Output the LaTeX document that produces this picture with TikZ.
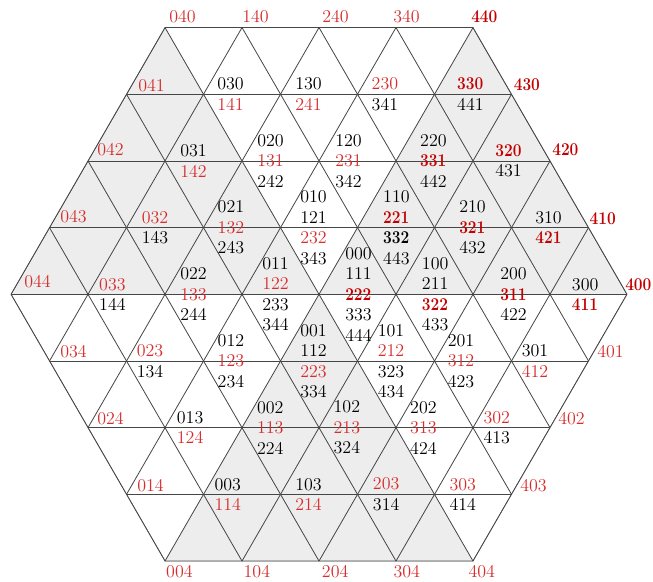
\documentclass[tikz,border=0pt]{standalone}
\usepackage{graphicx}
\usepackage{tikz}
\definecolor{LabRed}{RGB}{215,45,45}
\definecolor{LabDark}{RGB}{195,0,0}
\definecolor{TriGray}{RGB}{237,237,237}
\definecolor{GridGray}{RGB}{70,70,70}
\tikzset{
	trilines/.style={draw=GridGray,line width=0.6pt},
	grayzone/.style={fill=TriGray},
	lab/.style={anchor=west,inner sep=0pt,align=left,font=\fontsize{13.3pt}{15.15pt}\selectfont},
}
\newcommand{\lred}[1]{\textcolor{LabRed}{#1}}
\newcommand{\lbred}[1]{\textcolor{LabDark}{\scalebox{0.86}[1]{\bfseries #1}}}
\newcommand{\lbblk}[1]{\scalebox{0.86}[1]{\bfseries #1}}

\begin{document}
\begin{tikzpicture}
	\useasboundingbox (-8.286,-7.447) rectangle (8.675,7.644);
	\begin{scope}[x={(2cm,0cm)},y={(-1cm,1.7321cm)}]
		\coordinate (h040) at (0,4);
		\coordinate (h440) at (4,4);
		\coordinate (h400) at (4,0);
		\coordinate (h404) at (0,-4);
		\coordinate (h004) at (-4,-4);
		\coordinate (h044) at (-4,0);
		\coordinate (c000) at (0,0);
		\fill[grayzone] (h040)--(h044)--(c000)--cycle;
		\fill[grayzone] (h440)--(h400)--(c000)--cycle;
		\fill[grayzone] (c000)--(h004)--(h404)--cycle;
		\begin{scope}
			\clip (h040)--(h440)--(h400)--(h404)--(h004)--(h044)--cycle;
			\foreach \k in {-4,...,4} {
				\draw[trilines] (-8,\k) -- (8,\k);
				\draw[trilines] (\k,-8) -- (\k,8);
				\draw[trilines] (\k-8,-8) -- (\k+8,8);
			}
		\end{scope}
		\draw[trilines] (h040)--(h440)--(h400)--(h404)--(h004)--(h044)--cycle;

		\node[lab,xshift=3pt,yshift=8.1pt] (l040) at (0,4) {\lred{040}};
		\node[lab,xshift=0pt,yshift=8.1pt] (l140) at (1,4) {\lred{140}};
		\node[lab,xshift=2.2pt,yshift=8.1pt] (l240) at (2,4) {\lred{240}};
		\node[lab,xshift=-2.2pt,yshift=8.1pt] (l340) at (3,4) {\lred{340}};
		\node[lab,xshift=-1.5pt,yshift=8.1pt] (l440) at (4,4) {\lbred{440}};

		\node[lab,xshift=8.5pt,yshift=6.7pt] (l041) at (-1,3) {\lred{041}};
		\node[lab,xshift=10pt] (l030) at (0,3) {030\\\lred{141}};
		\node[lab,xshift=10.7pt] (l130) at (1,3) {130\\\lred{241}};
		\node[lab,xshift=10.3pt] (l230) at (2,3) {\lred{230}\\341};
		\node[lab,xshift=16.6pt] (l330) at (3,3) {\lbred{330}\\441};
		\node[lab,xshift=1.5pt,yshift=6.7pt] (l430) at (4,3) {\lbred{430}};

		\node[lab,xshift=6.7pt,yshift=8.1pt] (l042) at (-2,2) {\lred{042}};
		\node[lab,xshift=11.1pt] (l031) at (-1,2) {031\\\lred{142}};
		\node[lab,xshift=11.1pt] (l020) at (0,2) {020\\\lred{131}\\242};
		\node[lab,xshift=11.8pt] (l120) at (1,2) {120\\\lred{231}\\342};
		\node[lab,xshift=17.7pt] (l220) at (2,2) {220\\\lbred{331}\\442};
		\node[lab,xshift=16.3pt] (l320) at (3,2) {\lbred{320}\\431};
		\node[lab,xshift=1.5pt,yshift=8.1pt] (l420) at (4,2) {\lbred{420}};

		\node[lab,xshift=7.8pt,yshift=8.1pt] (l043) at (-3,1) {\lred{043}};
		\node[lab,xshift=11.1pt] (l032) at (-2,1) {\lred{032}\\143};
		\node[lab,xshift=10.3pt] (l021) at (-1,1) {021\\\lred{132}\\243};
		\node[lab,xshift=14.4pt] (l010) at (0,1) {010\\121\\\lred{232}\\343};
		\node[lab,xshift=18.8pt] (l110) at (1,1) {110\\\lbred{221}\\\lbblk{332}\\443};
		\node[lab,xshift=18.1pt] (l210) at (2,1) {210\\\lbred{321}\\432};
		\node[lab,xshift=17.4pt] (l310) at (3,1) {310\\\lbred{421}};
		\node[lab,xshift=0.7pt,yshift=6.7pt] (l410) at (4,1) {\lbred{410}};

		\node[lab,xshift=9.6pt,yshift=9.6pt] (l044) at (-4,0) {\lred{044}};
		\node[lab,xshift=8.1pt] (l033) at (-3,0) {\lred{033}\\144};
		\node[lab,xshift=11.1pt] (l022) at (-2,0) {022\\\lred{133}\\244};
		\node[lab,xshift=14.8pt] (l011) at (-1,0) {011\\\lred{122}\\233\\344};
		\node[lab,xshift=19.2pt] (l000) at (0,0) {000\\111\\\lbred{222}\\333\\444};
		\node[lab,xshift=19pt] (l100) at (1,0) {100\\211\\\lbred{322}\\433};
		\node[lab,xshift=20pt] (l200) at (2,0) {200\\\lbred{311}\\422};
		\node[lab,xshift=16pt] (l300) at (3,0) {300\\\lbred{411}};
		\node[lab,xshift=-1.5pt,yshift=7pt] (l400) at (4,0) {\lbred{400}};

		\node[lab,xshift=7.8pt,yshift=6.7pt] (l034) at (-4,-1) {\lred{034}};
		\node[lab,xshift=7.4pt] (l023) at (-3,-1) {\lred{023}\\134};
		\node[lab,xshift=10.3pt] (l012) at (-2,-1) {012\\\lred{123}\\234};
		\node[lab,xshift=14.4pt] (l001) at (-1,-1) {001\\112\\\lred{223}\\334};
		\node[lab,xshift=14.8pt] (l101) at (0,-1) {101\\\lred{212}\\323\\434};
		\node[lab,xshift=9.6pt] (l201) at (1,-1) {201\\\lred{312}\\423};
		\node[lab,xshift=7.4pt] (l301) at (2,-1) {301\\\lred{412}};
		\node[lab,xshift=6.3pt,yshift=6.7pt] (l401) at (3,-1) {\lred{401}};

		\node[lab,xshift=6.7pt,yshift=6.7pt] (l024) at (-4,-2) {\lred{024}};
		\node[lab,xshift=8.6pt] (l013) at (-3,-2) {013\\\lred{124}};
		\node[lab,xshift=10.9pt] (l002) at (-2,-2) {002\\\lred{113}\\224};
		\node[lab,xshift=10.6pt] (l102) at (-1,-2) {102\\\lred{213}\\324};
		\node[lab,xshift=10.3pt] (l202) at (0,-2) {202\\\lred{313}\\424};
		\node[lab,xshift=7.6pt] (l302) at (1,-2) {\lred{302}\\413};
		\node[lab,xshift=5.9pt,yshift=6.7pt] (l402) at (2,-2) {\lred{402}};

		\node[lab,xshift=7.8pt,yshift=6.7pt] (l014) at (-4,-3) {\lred{014}};
		\node[lab,xshift=8pt] (l003) at (-3,-3) {003\\\lred{114}};
		\node[lab,xshift=10.7pt] (l103) at (-2,-3) {103\\\lred{214}};
		\node[lab,xshift=11.2pt] (l203) at (-1,-3) {\lred{203}\\314};
		\node[lab,xshift=10.9pt] (l303) at (0,-3) {\lred{303}\\414};
		\node[lab,xshift=6.3pt,yshift=6.7pt] (l403) at (1,-3) {\lred{403}};

		\node[lab,xshift=0.7pt,yshift=-8.1pt] (l004) at (-4,-4) {\lred{004}};
		\node[lab,xshift=1pt,yshift=-8.1pt] (l104) at (-3,-4) {\lred{104}};
		\node[lab,xshift=2pt,yshift=-8.1pt] (l204) at (-2,-4) {\lred{204}};
		\node[lab,xshift=-2pt,yshift=-8.1pt] (l304) at (-1,-4) {\lred{304}};
		\node[lab,xshift=-3.5pt,yshift=-8.1pt] (l404) at (0,-4) {\lred{404}};
	\end{scope}
\end{tikzpicture}
\end{document}
